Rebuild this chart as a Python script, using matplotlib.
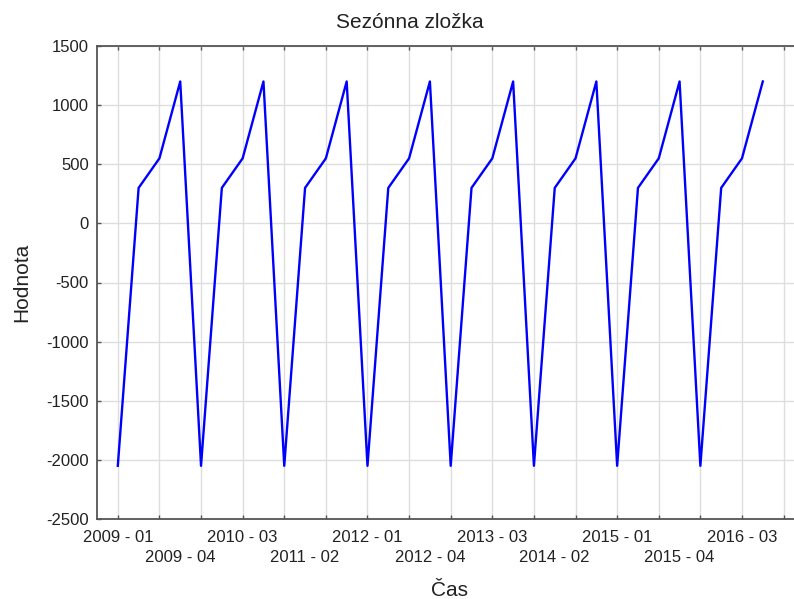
import matplotlib
matplotlib.use("Agg")
import matplotlib.pyplot as plt
import matplotlib.transforms as mtransforms
import numpy as np

plt.rcParams['font.family'] = ['Liberation Sans', 'DejaVu Sans']

# Data: quarterly seasonal component 2009Q1 .. 2016Q4
years = list(range(2009, 2017))
quarter_values = [-2050, 300, 550, 1200]
periods = [f"{y} - {q:02d}" for y in years for q in range(1, 5)]
values = []
for y in years:
    values.extend(quarter_values)

label_periods = ["2009 - 01", "2009 - 04", "2010 - 03", "2011 - 02", "2012 - 01", "2012 - 04",
                 "2013 - 03", "2014 - 02", "2015 - 01", "2015 - 04", "2016 - 03"]
yticks = [-2500, -2000, -1500, -1000, -500, 0, 500, 1000, 1500]

W, H = 794, 599
fig = plt.figure(figsize=(W / 100, H / 100), dpi=100)
left, right, top, bottom = 97, 794, 46, 519
ax = fig.add_axes([left / W, 1 - bottom / H, (right - left) / W, (bottom - top) / H])

x = np.arange(len(values))
ax.plot(x, values, color='#0000ff', lw=1.7, zorder=3)

ax.set_xlim(-1.0, 32.5)
ax.set_ylim(-2500, 1500)
ax.set_yticks(yticks)
ax.set_yticklabels([str(v) for v in yticks], fontsize=12, color='#222222')
ax.set_xticks(np.arange(0, 33, 2))
ax.set_xticklabels([])

ax.grid(True, color='#dedede', lw=1.0, zorder=0)
ax.set_axisbelow(True)
ax.tick_params(axis='both', direction='in', length=3, width=1.0, color='#555555', top=True, right=False)
ax.tick_params(axis='y', pad=6)

for side in ['left', 'bottom', 'top']:
    ax.spines[side].set_color('#555555')
    ax.spines[side].set_linewidth(1.3)
ax.spines['right'].set_visible(False)

trans = mtransforms.blended_transform_factory(ax.transData, fig.transFigure)
for i, lab in enumerate(label_periods):
    xi = periods.index(lab)
    ypix = 537 if i % 2 == 0 else 557
    ax.text(xi, 1 - ypix / H, lab, transform=trans, ha='center', va='center',
            fontsize=12, color='#222222', clip_on=False)

fig.text(410 / W, 1 - 22 / H, "Sezónna zložka", ha='center', va='center', fontsize=15, color='#222222')
fig.text(22 / W, 1 - 282 / H, "Hodnota", ha='center', va='center', rotation=90, fontsize=15, color='#222222')
fig.text(450 / W, 1 - 590 / H, "Čas", ha='center', va='center', fontsize=15, color='#222222')

fig.savefig("out.png", dpi=100)
